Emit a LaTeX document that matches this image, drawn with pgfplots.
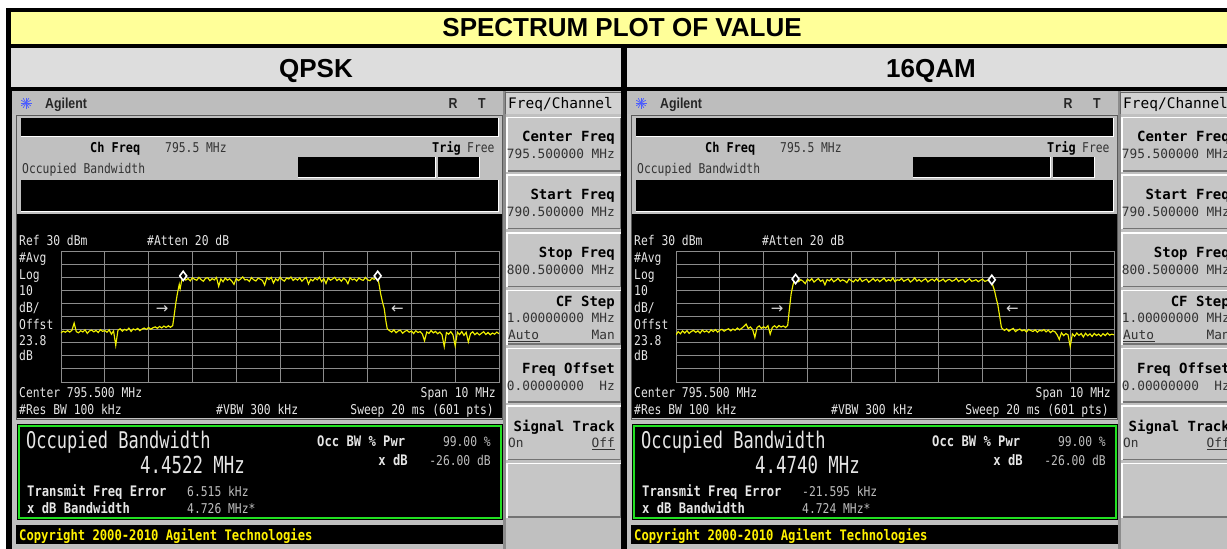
\documentclass[border=0pt]{standalone}
\usepackage{pgfplots}
\pgfplotsset{compat=1.18}
\usepackage{fontspec}
\setmainfont{Liberation Sans}
\newfontfamily\hdrf{Liberation Sans Bold}
\newfontfamily\agf[FakeStretch=0.85]{Liberation Sans Bold}
\newfontfamily\scr[FakeStretch=0.84]{DejaVu Sans Mono}
\newfontfamily\scrb[FakeStretch=0.88]{DejaVu Sans Mono Bold}
\newfontfamily\keyr[FakeStretch=1.0]{DejaVu Sans Mono}
\newfontfamily\keyb[FakeStretch=1.0]{DejaVu Sans Mono Bold}
\newfontfamily\bigf[FakeStretch=0.74]{DejaVu Sans Mono}
\newfontfamily\measb[FakeStretch=0.84]{DejaVu Sans Mono Bold}
\newfontfamily\arrf{DejaVu Sans}
\newcommand\fs[1]{\fontsize{#1}{#1}\selectfont}
\definecolor{titleyellow}{HTML}{FFFF99}
\definecolor{hdrgray}{HTML}{DDDDDD}
\definecolor{scrgray}{HTML}{C0C0C0}
\definecolor{bargray}{HTML}{BDBDBD}
\definecolor{keygray}{HTML}{C6C6C6}
\definecolor{txtdark}{HTML}{333333}
\definecolor{gridgray}{HTML}{8C8C8C}
\definecolor{trace}{HTML}{F0F000}
\definecolor{okgreen}{HTML}{22E022}
\definecolor{agblue}{HTML}{4A5CFF}
\definecolor{scrtxt}{HTML}{E6E6E6}
\definecolor{valtxt}{HTML}{BEBEBE}
\tikzset{t/.style={inner sep=0pt,anchor=base west},
 tr/.style={inner sep=0pt,anchor=base east},
 tc/.style={inner sep=0pt,anchor=base}}

\pgfplotsset{spec/.style={anchor=north west, width=438pt, height=131pt, scale only axis,
 xmin=790.5,xmax=800.5,ymin=-70,ymax=30,
 xtick={790.5,791.5,792.5,793.5,794.5,795.5,796.5,797.5,798.5,799.5,800.5},
 ytick={-70,-60,-50,-40,-30,-20,-10,0,10,20,30},
 xticklabels={},yticklabels={}, major tick length=0pt,
 grid=major, grid style={gridgray, line width=0.9pt},
 axis line style={gridgray, line width=0.9pt}, clip=true}}

\newcommand\softkey[1]{%
 \fill[keygray] (506,#1) rectangle (621,#1+55);
 \draw[white,line width=1.5pt] (506.75,#1+55) -- (506.75,#1+0.75) -- (621,#1+0.75);
 \draw[black!55,line width=1.5pt] (507.5,#1+54.25) -- (620.25,#1+54.25) -- (620.25,#1+1.5);
}

% #1 offset, #2 OBW, #3 freq err, #4 xdB bw
\newcommand\panel[4]{%
\begin{scope}[shift={(#1,0)}]
\fill[scrgray] (12,91) rectangle (621,549);
\fill[bargray] (12,91) rectangle (503,114);
\foreach \a in {0,30,...,330} \draw[agblue,line width=0.7pt] (26,103) -- ++(\a:5.5);
\node[t,font={\agf\fs{14.5}},text=black!85] at (45,108) {Agilent};
\node[tc,font={\agf\fs{14.5}},text=black!85] at (453,108) {R};
\node[tc,font={\agf\fs{14.5}},text=black!85] at (482,108) {T};
% display frame
\draw[black!65,line width=1pt] (16.5,115.5) rectangle (502.5,419);
\fill[black] (21,118) rectangle (498,136);
\draw[white,line width=1pt] (21,136.5) -- (498.5,136.5) -- (498.5,118);
\node[t,font={\scrb\fs{13.5}},text=black] at (90,152) {Ch Freq};
\node[t,font={\scr\fs{13.5}},text=txtdark] at (165,152) {795.5 MHz};
\node[t,font={\scrb\fs{13.5}},text=black] at (432,152) {Trig};
\node[t,font={\scr\fs{13.5}},text=txtdark] at (467,152) {Free};
\node[t,font={\scr\fs{13.5}},text=txtdark] at (22,173) {Occupied Bandwidth};
\fill[black] (298,157) rectangle (435,177);
\draw[white,line width=1pt] (298,177.5) -- (435.5,177.5) -- (435.5,157);
\fill[black] (438,157) rectangle (479,177);
\draw[white,line width=1pt] (438,177.5) -- (479.5,177.5) -- (479.5,157);
\fill[black] (21,180) rectangle (498,211);
\draw[white,line width=1pt] (21,211.5) -- (498.5,211.5) -- (498.5,180);
% graph area
\fill[black] (17,214) rectangle (502,418);
\node[t,font={\scr\fs{13.5}},text=scrtxt] at (19,245) {Ref 30 dBm};
\node[t,font={\scr\fs{13.5}},text=scrtxt] at (147,245) {\#Atten 20 dB};
\node[t,font={\scr\fs{13.5}},text=scrtxt] at (19,262) {\#Avg};
\node[t,font={\scr\fs{13.5}},text=scrtxt] at (19,279) {Log};
\node[t,font={\scr\fs{13.5}},text=scrtxt] at (19,295) {10};
\node[t,font={\scr\fs{13.5}},text=scrtxt] at (19,312) {dB/};
\node[t,font={\scr\fs{13.5}},text=scrtxt] at (19,329) {Offst};
\node[t,font={\scr\fs{13.5}},text=scrtxt] at (19,345) {23.8};
\node[t,font={\scr\fs{13.5}},text=scrtxt] at (19,360) {dB};
\node[t,font={\scr\fs{13.5}},text=scrtxt] at (19,397) {Center 795.500 MHz};
\node[tr,font={\scr\fs{13.5}},text=scrtxt] at (496,397) {Span 10 MHz};
\node[t,font={\scr\fs{13.5}},text=scrtxt] at (19,414) {\#Res BW 100 kHz};
\node[t,font={\scr\fs{13.5}},text=scrtxt] at (216,414) {\#VBW 300 kHz};
\node[tr,font={\scr\fs{13.5}},text=scrtxt] at (494,414) {Sweep 20 ms (601 pts)};
% measurement box
\fill[black] (17,424) rectangle (503,520);
\draw[okgreen,line width=2pt] (19,426) rectangle (501,518);
\node[t,font={\bigf\fs{23}},text=scrtxt] at (26,448) {Occupied Bandwidth};
\node[t,font={\bigf\fs{23.5}},text=scrtxt] at (140,473) {#2};
\node[t,font={\measb\fs{14.5}},text=scrtxt] at (317,446) {Occ BW \% Pwr};
\node[tr,font={\measb\fs{14.5}},text=scrtxt] at (408,465) {x dB};
\node[tr,font={\scr\fs{13.5}},text=valtxt] at (491,446) {99.00 \%};
\node[tr,font={\scr\fs{13.5}},text=valtxt] at (491,465) {-26.00 dB};
\node[t,font={\measb\fs{14.5}},text=scrtxt] at (27,496) {Transmit Freq Error};
\node[t,font={\measb\fs{14.5}},text=scrtxt] at (27,513) {x dB Bandwidth};
\node[t,font={\scr\fs{13.5}},text=valtxt] at (187,496) {#3};
\node[t,font={\scr\fs{13.5}},text=valtxt] at (187,513) {#4};
% copyright
\fill[black] (16,525) rectangle (503,544);
\node[t,font={\measb\fs{14.5}},text=yellow] at (19,540) {Copyright 2000-2010 Agilent Technologies};
% softkeys
\fill[black!45] (503,91) rectangle (506,549);
\fill[hdrgray!95!black] (505,92.5) rectangle (621,113.5);
\draw[black!60,line width=1pt] (505.5,113.5) -- (505.5,92.5) -- (621,92.5);
\node[t,font={\keyr\fs{14.5}},text=black] at (508,108) {Freq/Channel};
\softkey{116.7}\softkey{174.4}\softkey{232.1}\softkey{289.8}\softkey{347.5}\softkey{405.2}\softkey{462.9}
\node[tr,font={\keyb\fs{14}},text=black] at (615,141) {Center Freq};
\node[tr,font={\keyr\fs{12.8}},text=txtdark] at (615,158) {795.500000 MHz};
\node[tr,font={\keyb\fs{14}},text=black] at (615,199) {Start Freq};
\node[tr,font={\keyr\fs{12.8}},text=txtdark] at (615,216) {790.500000 MHz};
\node[tr,font={\keyb\fs{14}},text=black] at (615,257) {Stop Freq};
\node[tr,font={\keyr\fs{12.8}},text=txtdark] at (615,274) {800.500000 MHz};
\node[tr,font={\keyb\fs{14}},text=black] at (615,306) {CF Step};
\node[tr,font={\keyr\fs{12.8}},text=txtdark] at (615,322) {1.00000000 MHz};
\node[t,font={\keyr\fs{12.8}},text=txtdark] at (508,339) {Auto};
\draw[txtdark,line width=0.8pt] (508,341.5) -- (540,341.5);
\node[tr,font={\keyr\fs{12.8}},text=txtdark] at (615,339) {Man};
\node[tr,font={\keyb\fs{14}},text=black] at (615,373) {Freq Offset};
\node[tr,font={\keyr\fs{12.8}},text=txtdark] at (615,390) {0.00000000~~Hz};
\node[tr,font={\keyb\fs{14}},text=black] at (615,431) {Signal Track};
\node[t,font={\keyr\fs{12.8}},text=txtdark] at (508,447) {On};
\node[tr,font={\keyr\fs{12.8}},text=txtdark] at (615,447) {Off};
\draw[txtdark,line width=0.8pt] (592,449.5) -- (615,449.5);
\end{scope}}

\begin{document}
\begin{tikzpicture}
\begin{scope}[x=1pt,y=-1pt]
\fill[white] (0,0) rectangle (1227,549);
\fill[black] (6,8) rectangle (1240,549);
\fill[titleyellow] (11,12) rectangle (1240,44);
\fill[hdrgray] (11,48) rectangle (621,87);
\fill[hdrgray] (627,48) rectangle (1240,87);
\node[tc,font={\hdrf\fs{26}}] at (622,36.5) {SPECTRUM PLOT OF VALUE};
\node[tc,font={\hdrf\fs{26}}] at (316,77) {QPSK};
\node[tc,font={\hdrf\fs{26}}] at (931,77) {16QAM};
\panel{0}{4.4522 MHz}{6.515 kHz}{4.726 MHz*}
\panel{615}{4.4740 MHz}{-21.595 kHz}{4.724 MHz*}
\end{scope}

% QPSK trace
\begin{axis}[spec, at={(61pt,-251pt)}]
\addplot[trace, line width=1.15pt] coordinates {
(790.50,-32.5)(790.55,-31.2)(790.60,-32.0)(790.65,-30.8)(790.70,-31.9)(790.75,-30.5)(790.80,-25.0)(790.85,-31.6)(790.90,-32.4)(790.95,-30.9)
(791.00,-31.8)(791.05,-30.2)(791.10,-32.9)(791.15,-31.0)(791.20,-30.4)(791.25,-31.7)(791.30,-30.6)(791.35,-32.2)(791.40,-30.1)(791.45,-31.3)
(791.50,-30.7)(791.55,-32.0)(791.60,-30.2)(791.65,-33.5)(791.70,-31.0)(791.75,-42.0)(791.80,-30.5)(791.85,-29.4)(791.90,-31.2)(791.95,-29.8)
(792.00,-30.6)(792.05,-28.9)(792.10,-31.4)(792.15,-29.5)(792.20,-30.3)(792.25,-29.1)(792.30,-30.8)(792.35,-29.6)(792.40,-28.8)(792.45,-29.9)
(792.50,-28.4)(792.55,-29.7)(792.60,-28.6)(792.65,-27.9)(792.70,-29.0)(792.75,-27.6)(792.80,-28.7)(792.85,-27.3)(792.90,-28.4)(792.95,-27.1)
(793.00,-28.2)(793.05,-27.0)(793.08,-20.0)(793.12,-10.0)(793.16,-2.0)(793.20,4.5)(793.22,1.0)(793.25,6.5)(793.28,10.0)
(793.30,9.7)(793.35,7.8)(793.40,9.0)(793.45,7.2)(793.50,9.5)(793.55,8.4)(793.60,7.6)(793.65,9.9)(793.70,8.1)(793.75,6.9)
(793.80,9.2)(793.85,9.6)(793.90,7.3)(793.95,8.9)(794.00,7.9)(794.05,9.8)(794.10,3.0)(794.15,8.7)(794.20,6.5)(794.25,9.4)
(794.30,7.7)(794.35,8.8)(794.40,7.0)(794.45,4.5)(794.50,9.1)(794.55,7.4)(794.60,8.6)(794.65,10.2)(794.70,7.9)(794.75,8.3)
(794.80,6.8)(794.85,9.7)(794.90,8.0)(794.95,7.1)(795.00,9.3)(795.05,8.5)(795.10,7.5)(795.15,4.0)(795.20,9.6)(795.25,8.2)
(795.30,9.9)(795.35,5.5)(795.40,8.8)(795.45,7.3)(795.50,10.0)(795.55,8.1)(795.60,7.0)(795.65,9.4)(795.70,8.6)(795.75,10.1)
(795.80,7.5)(795.85,9.0)(795.90,7.8)(795.95,9.5)(796.00,6.9)(796.05,8.7)(796.10,9.8)(796.15,4.8)(796.20,8.4)(796.25,7.2)
(796.30,9.3)(796.35,8.0)(796.40,10.0)(796.45,6.6)(796.50,8.9)(796.55,5.2)(796.60,9.5)(796.65,7.7)(796.70,8.6)(796.75,9.9)
(796.80,7.4)(796.85,8.8)(796.90,6.9)(796.95,9.2)(797.00,8.1)(797.05,5.0)(797.10,9.6)(797.15,7.9)(797.20,8.7)(797.25,7.1)
(797.30,9.4)(797.35,8.2)(797.40,7.6)(797.45,9.8)(797.50,8.0)(797.55,7.3)(797.60,9.1)(797.65,8.4)(797.70,9.7)
(797.73,9.5)(797.76,5.0)(797.80,-3.0)(797.84,-9.0)(797.88,-14.0)(797.92,-24.0)(797.95,-29.5)
(798.00,-30.8)(798.05,-31.9)(798.10,-30.2)(798.15,-32.4)(798.20,-31.0)(798.25,-30.5)(798.30,-32.8)(798.35,-31.3)(798.40,-30.6)(798.45,-32.0)
(798.50,-31.1)(798.55,-33.0)(798.60,-30.9)(798.65,-32.2)(798.70,-31.5)(798.75,-33.4)(798.80,-38.5)(798.85,-31.8)(798.90,-32.9)(798.95,-30.7)
(799.00,-32.5)(799.05,-31.4)(799.10,-33.2)(799.15,-31.9)(799.20,-34.0)(799.25,-43.0)(799.30,-32.3)(799.35,-33.5)(799.40,-31.6)(799.45,-34.2)
(799.50,-42.5)(799.55,-32.0)(799.60,-33.8)(799.65,-31.5)(799.70,-34.4)(799.75,-32.1)(799.80,-39.5)(799.85,-33.0)(799.90,-31.7)(799.95,-33.9)
(800.00,-32.4)(800.05,-34.1)(800.10,-32.8)(800.15,-31.6)(800.20,-33.7)(800.25,-32.2)(800.30,-34.0)(800.35,-32.6)(800.40,-33.5)(800.45,-31.9)(800.50,-33.2)
};
\addplot[only marks, mark=diamond*, mark size=4.6pt, mark options={fill=black, draw=white, line width=1.6pt}] coordinates {(793.29,11.0)(797.73,11.0)};
\node[font={\arrf\fs{15}},text=white!85!black] at (axis cs:792.81,-14.5) {→};
\node[font={\arrf\fs{15}},text=white!85!black] at (axis cs:798.18,-14.5) {←};
\end{axis}

% 16QAM trace
\begin{axis}[spec, at={(676pt,-251pt)}]
\addplot[trace, line width=1.15pt] coordinates {
(790.50,-34.0)(790.55,-31.5)(790.60,-33.2)(790.65,-31.0)(790.70,-32.6)(790.75,-30.8)(790.80,-32.9)(790.85,-31.4)(790.90,-30.6)(790.95,-32.1)
(791.00,-31.0)(791.05,-32.7)(791.10,-30.4)(791.15,-31.8)(791.20,-30.9)(791.25,-32.3)(791.30,-30.2)(791.35,-31.5)(791.40,-30.0)(791.45,-31.9)
(791.50,-30.5)(791.55,-29.8)(791.60,-31.2)(791.65,-30.1)(791.70,-29.4)(791.75,-31.0)(791.80,-29.6)(791.85,-30.5)(791.90,-28.8)(791.95,-30.2)
(792.00,-29.0)(792.05,-27.5)(792.10,-25.8)(792.15,-29.2)(792.20,-28.0)(792.25,-30.0)(792.30,-36.0)(792.35,-28.4)(792.40,-27.2)(792.45,-29.1)
(792.50,-27.8)(792.55,-28.9)(792.60,-27.0)(792.65,-33.5)(792.70,-28.3)(792.75,-27.1)(792.80,-28.6)(792.85,-26.9)(792.90,-28.0)(792.95,-27.2)
(793.00,-28.4)(793.05,-26.8)(793.09,-14.0)(793.13,-2.5)(793.17,4.0)(793.20,7.5)(793.23,8.5)
(793.25,8.7)(793.30,6.6)(793.35,8.1)(793.40,7.0)(793.45,5.1)(793.50,8.4)(793.55,7.2)(793.60,8.9)(793.65,6.3)(793.70,7.7)
(793.75,9.0)(793.80,6.8)(793.85,7.9)(793.90,4.2)(793.95,8.2)(794.00,7.1)(794.05,8.8)(794.10,6.5)(794.15,7.6)(794.20,9.1)
(794.25,6.9)(794.30,8.0)(794.35,7.3)(794.40,5.8)(794.45,8.6)(794.50,7.4)(794.55,6.4)(794.60,8.3)(794.65,7.0)(794.70,9.2)
(794.75,6.7)(794.80,7.8)(794.85,8.5)(794.90,6.2)(794.95,7.5)(795.00,9.0)(795.05,7.1)(795.10,8.4)(795.15,6.6)(795.20,7.9)
(795.25,9.3)(795.30,6.8)(795.35,8.1)(795.40,7.2)(795.45,9.4)(795.50,6.5)(795.55,8.0)(795.60,7.6)(795.65,9.1)(795.70,6.9)
(795.75,7.8)(795.80,8.7)(795.85,6.3)(795.90,7.5)(795.95,9.5)(796.00,7.0)(796.05,8.2)(796.10,6.6)(796.15,7.9)(796.20,8.9)
(796.25,6.4)(796.30,7.7)(796.35,8.5)(796.40,7.1)(796.45,9.0)(796.50,6.8)(796.55,7.4)(796.60,8.6)(796.65,6.5)(796.70,7.9)
(796.75,8.3)(796.80,6.9)(796.85,7.6)(796.90,9.1)(796.95,6.7)(797.00,7.8)(797.05,8.4)(797.10,6.2)(797.15,7.5)(797.20,8.8)
(797.25,6.9)(797.30,7.3)(797.35,8.1)(797.40,6.6)(797.45,7.7)(797.50,8.5)(797.55,6.8)(797.60,7.4)(797.65,8.0)
(797.69,8.0)(797.73,4.0)(797.77,0.0)(797.81,-6.0)(797.85,-11.5)(797.89,-20.0)(797.93,-28.5)
(797.97,-29.8)(798.00,-30.6)(798.05,-29.4)(798.10,-31.2)(798.15,-30.0)(798.20,-29.1)(798.25,-31.5)(798.30,-30.3)(798.35,-29.6)(798.40,-31.0)
(798.45,-30.1)(798.50,-31.8)(798.55,-29.9)(798.60,-30.7)(798.65,-31.4)(798.70,-30.2)(798.75,-32.0)(798.80,-30.5)(798.85,-31.1)(798.90,-30.0)
(798.95,-31.7)(799.00,-30.4)(799.05,-32.3)(799.10,-30.9)(799.15,-31.6)(799.20,-33.8)(799.25,-37.5)(799.30,-32.4)(799.35,-34.6)(799.40,-33.0)
(799.45,-34.0)(799.50,-43.0)(799.55,-33.2)(799.60,-35.1)(799.65,-32.6)(799.70,-34.4)(799.75,-33.0)(799.80,-35.6)(799.85,-32.8)(799.90,-34.7)
(799.95,-33.3)(800.00,-35.2)(800.05,-32.9)(800.10,-34.5)(800.15,-33.4)(800.20,-35.0)(800.25,-33.1)(800.30,-34.6)(800.35,-32.7)(800.40,-34.2)(800.45,-33.5)(800.50,-34.0)
};
\addplot[only marks, mark=diamond*, mark size=4.6pt, mark options={fill=black, draw=white, line width=1.6pt}] coordinates {(793.23,8.6)(797.71,8.0)};
\node[font={\arrf\fs{15}},text=white!85!black] at (axis cs:792.81,-15) {→};
\node[font={\arrf\fs{15}},text=white!85!black] at (axis cs:798.18,-15) {←};
\end{axis}
\pgfresetboundingbox
\path[use as bounding box] (0pt,0pt) rectangle (1227pt,-549pt);
\end{tikzpicture}
\end{document}
